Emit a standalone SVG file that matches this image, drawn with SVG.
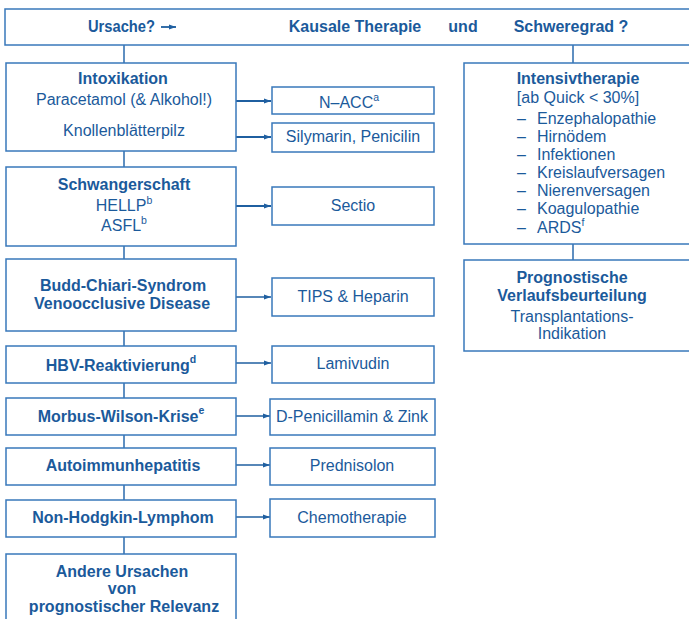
<svg xmlns="http://www.w3.org/2000/svg" width="689" height="619" viewBox="0 0 689 619">
<defs>
<style>
.box{fill:#fff;stroke:#3878bb;stroke-width:1.5}
.ln{stroke:#2a6aad;stroke-width:1.5;fill:none}
.ar{stroke:#1f5fa0;fill:none}
text{font-family:"Liberation Sans",Arial,sans-serif;fill:#1b5a9b;font-size:16px;text-anchor:middle}
.b{font-weight:bold}
.l{text-anchor:start}
.sup{font-size:10.5px}
</style>
<marker id="ah" viewBox="0 0 10 10" refX="10" refY="5" markerWidth="9" markerHeight="7" markerUnits="userSpaceOnUse" orient="auto"><path d="M0,1.5 L10,5 L0,8.5 Z" fill="#1f5fa0"/></marker>
</defs>
<rect width="689" height="619" fill="#fff"/>
<g id="connectors">
<line class="ln" x1="124" y1="45" x2="124" y2="63"/>
<line class="ln" x1="124" y1="151" x2="124" y2="167"/>
<line class="ln" x1="124" y1="246" x2="124" y2="259"/>
<line class="ln" x1="124" y1="331" x2="124" y2="346"/>
<line class="ln" x1="124" y1="383" x2="124" y2="398"/>
<line class="ln" x1="124" y1="435" x2="124" y2="448"/>
<line class="ln" x1="124" y1="485" x2="124" y2="500"/>
<line class="ln" x1="124" y1="537" x2="124" y2="554"/>
<line class="ln" x1="573" y1="45" x2="573" y2="63"/>
<line class="ln" x1="573" y1="244" x2="573" y2="260"/>
<line class="ar" stroke-width="2.2" x1="236" y1="101" x2="271" y2="101" marker-end="url(#ah)"/>
<line class="ar" stroke-width="2.2" x1="236" y1="137" x2="271" y2="137" marker-end="url(#ah)"/>
<line class="ar" stroke-width="2.2" x1="236" y1="206" x2="271" y2="206" marker-end="url(#ah)"/>
<line class="ar" stroke-width="1.3" x1="236" y1="297" x2="271" y2="297" marker-end="url(#ah)"/>
<line class="ar" stroke-width="1.3" x1="236" y1="363" x2="271" y2="363" marker-end="url(#ah)"/>
<line class="ar" stroke-width="1.3" x1="236" y1="416" x2="270" y2="416" marker-end="url(#ah)"/>
<line class="ar" stroke-width="1.3" x1="236" y1="465" x2="270" y2="465" marker-end="url(#ah)"/>
<line class="ar" stroke-width="1.3" x1="236" y1="517" x2="270" y2="517" marker-end="url(#ah)"/>
</g>
<g id="header">
<rect class="box" x="5" y="9" width="700" height="36"/>
<text class="b l" x="88" y="32" textLength="67" lengthAdjust="spacingAndGlyphs">Ursache?</text>
<line class="ar" stroke-width="1.8" x1="161" y1="27" x2="176" y2="27" marker-end="url(#ah)"/>
<text class="b" x="355" y="32">Kausale Therapie</text>
<text class="b" x="463" y="32">und</text>
<text class="b" x="571" y="32">Schweregrad ?</text>
</g>
<g id="intoxikation">
<rect class="box" x="6" y="63" width="230" height="88"/>
<text class="b" x="123" y="84">Intoxikation</text>
<text x="124" y="105">Paracetamol (&amp; Alkohol!)</text>
<text x="124" y="136">Knollenblätterpilz</text>
</g>
<g id="nacc">
<rect class="box" x="272" y="87" width="162" height="27"/>
<text x="349" y="108">N–ACC<tspan class="sup" dy="-7">a</tspan></text>
</g>
<g id="silymarin">
<rect class="box" x="272" y="123" width="162" height="29"/>
<text x="353" y="142">Silymarin, Penicilin</text>
</g>
<g id="schwangerschaft">
<rect class="box" x="6" y="167" width="230" height="79"/>
<text class="b" x="124" y="190">Schwangerschaft</text>
<text x="124" y="211">HELLP<tspan class="sup" dy="-7">b</tspan></text>
<text x="124" y="231">ASFL<tspan class="sup" dy="-7">b</tspan></text>
</g>
<g id="sectio">
<rect class="box" x="272" y="187" width="162" height="38"/>
<text x="353" y="211">Sectio</text>
</g>
<g id="buddchiari">
<rect class="box" x="6" y="259" width="230" height="72"/>
<text class="b" x="123" y="291">Budd-Chiari-Syndrom</text>
<text class="b" x="122" y="309">Venoocclusive Disease</text>
</g>
<g id="tips">
<rect class="box" x="272" y="278" width="162" height="38"/>
<text x="353" y="302">TIPS &amp; Heparin</text>
</g>
<g id="hbv">
<rect class="box" x="6" y="346" width="230" height="37"/>
<text class="b" x="121" y="371">HBV-Reaktivierung<tspan class="sup" dy="-8">d</tspan></text>
</g>
<g id="lamivudin">
<rect class="box" x="272" y="346" width="162" height="37"/>
<text x="353" y="369">Lamivudin</text>
</g>
<g id="wilson">
<rect class="box" x="6" y="398" width="230" height="37"/>
<text class="b" x="121" y="422">Morbus-Wilson-Krise<tspan class="sup" dy="-8">e</tspan></text>
</g>
<g id="penicillamin">
<rect class="box" x="270" y="399" width="165" height="36"/>
<text x="352" y="422">D-Penicillamin &amp; Zink</text>
</g>
<g id="autoimmun">
<rect class="box" x="6" y="448" width="230" height="37"/>
<text class="b" x="123" y="471">Autoimmunhepatitis</text>
</g>
<g id="prednisolon">
<rect class="box" x="270" y="448" width="165" height="37"/>
<text x="352" y="471">Prednisolon</text>
</g>
<g id="nhl">
<rect class="box" x="6" y="500" width="230" height="37"/>
<text class="b" x="123" y="523">Non-Hodgkin-Lymphom</text>
</g>
<g id="chemo">
<rect class="box" x="270" y="499" width="165" height="38"/>
<text x="352" y="523">Chemotherapie</text>
</g>
<g id="andere">
<rect class="box" x="6" y="554" width="230" height="80"/>
<text class="b" x="122" y="577">Andere Ursachen</text>
<text class="b" x="122" y="594">von</text>
<text class="b" x="124" y="612">prognostischer Relevanz</text>
</g>
<g id="intensiv">
<rect class="box" x="464" y="63" width="240" height="181"/>
<text class="b" x="578" y="84">Intensivtherapie</text>
<text x="578" y="103">[ab Quick &lt; 30%]</text>
<text class="l" x="517" y="124">–</text><text class="l" x="537" y="124">Enzephalopathie</text>
<text class="l" x="517" y="142">–</text><text class="l" x="537" y="142">Hirnödem</text>
<text class="l" x="517" y="160">–</text><text class="l" x="537" y="160">Infektionen</text>
<text class="l" x="517" y="178">–</text><text class="l" x="537" y="178">Kreislaufversagen</text>
<text class="l" x="517" y="196">–</text><text class="l" x="537" y="196">Nierenversagen</text>
<text class="l" x="517" y="214">–</text><text class="l" x="537" y="214">Koagulopathie</text>
<text class="l" x="517" y="233">–</text><text class="l" x="537" y="233">ARDS<tspan class="sup" dy="-7">f</tspan></text>
</g>
<g id="prognose">
<rect class="box" x="464" y="260" width="240" height="91"/>
<text class="b" x="572" y="283">Prognostische</text>
<text class="b" x="572" y="301">Verlaufsbeurteilung</text>
<text x="572" y="322">Transplantations-</text>
<text x="572" y="339">Indikation</text>
</g>
</svg>
